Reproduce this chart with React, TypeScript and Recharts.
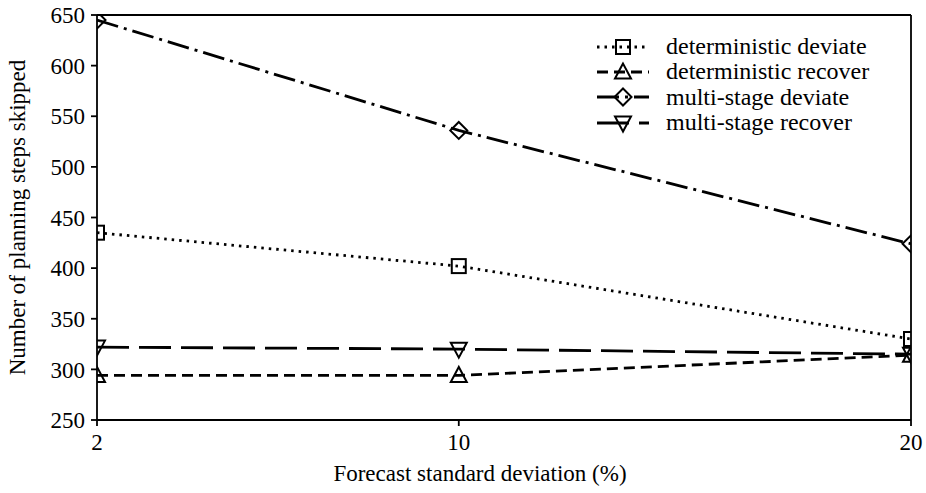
import React from "react"
import {
  LineChart,
  Line,
  XAxis,
  YAxis,
  ReferenceLine,
  Legend,
} from "recharts"

const forecastStd = [2, 10, 20]
const detDeviate = [435, 402, 330]
const detRecover = [294, 294, 314]
const msDeviate = [645, 536, 424]
const msRecover = [322, 320, 315]
const yTicks = [250, 300, 350, 400, 450, 500, 550, 600, 650]

const FONT = "'Liberation Serif', 'DejaVu Serif', serif"
const FS = 23

type Shape = "square" | "triangle" | "diamond" | "triangleDown"

interface SeriesDef {
  key: string
  name: string
  dash: string
  shape: Shape
}

const series: SeriesDef[] = [
  { key: "detDeviate", name: "deterministic deviate", dash: "2.5 5", shape: "square" },
  { key: "detRecover", name: "deterministic recover", dash: "11 6", shape: "triangle" },
  { key: "msDeviate", name: "multi-stage deviate", dash: "22 6 3 6", shape: "diamond" },
  { key: "msRecover", name: "multi-stage recover", dash: "32 10", shape: "triangleDown" },
]

const data = forecastStd.map((x, i) => ({
  x,
  detDeviate: detDeviate[i],
  detRecover: detRecover[i],
  msDeviate: msDeviate[i],
  msRecover: msRecover[i],
}))

function Marker({ shape, cx, cy }: { shape: Shape; cx: number; cy: number }) {
  const common = { fill: "none", stroke: "#000", strokeWidth: 2 }
  if (shape === "square") {
    return <rect x={cx - 7} y={cy - 7} width={14} height={14} {...common} />
  }
  if (shape === "triangle") {
    return <polygon points={`${cx},${cy - 8.5} ${cx - 8},${cy + 6.5} ${cx + 8},${cy + 6.5}`} {...common} />
  }
  if (shape === "triangleDown") {
    return <polygon points={`${cx},${cy + 8.5} ${cx - 8},${cy - 6.5} ${cx + 8},${cy - 6.5}`} {...common} />
  }
  return <polygon points={`${cx},${cy - 8.5} ${cx + 8.5},${cy} ${cx},${cy + 8.5} ${cx - 8.5},${cy}`} {...common} />
}

function LegendBox() {
  return (
    <div style={{ fontFamily: FONT, fontSize: 24, lineHeight: "25.3px", color: "#000" }}>
      {series.map((s) => (
        <div key={s.key} style={{ display: "flex", alignItems: "center", height: 25.3 }}>
          <svg width={56} height={22} style={{ marginRight: 15 }}>
            <line x1={2} y1={11} x2={54} y2={11} stroke="#000" strokeWidth={3} strokeDasharray={s.dash} />
            <Marker shape={s.shape} cx={28} cy={11} />
          </svg>
          <span>{s.name}</span>
        </div>
      ))}
    </div>
  )
}

export default function App() {
  return (
    <div style={{ position: "absolute", left: 0, top: 0, width: 926, height: 493, background: "#fff" }}>
      <LineChart
        width={926}
        height={493}
        data={data}
        margin={{ top: 15, right: 15, left: 0, bottom: 0 }}
      >
        <XAxis
          dataKey="x"
          type="number"
          domain={[2, 20]}
          ticks={forecastStd}
          allowDataOverflow
          height={73}
          stroke="#000"
          strokeWidth={1.8}
          tickSize={6}
          tickMargin={8}
          tick={{ fill: "#000", fontSize: FS, fontFamily: FONT }}
          label={{
            value: "Forecast standard deviation (%)",
            position: "insideBottom",
            offset: 12,
            dx: -24,
            fill: "#000",
            fontSize: FS,
            fontFamily: FONT,
          }}
        />
        <YAxis
          type="number"
          domain={[250, 650]}
          ticks={yTicks}
          allowDataOverflow
          width={97}
          stroke="#000"
          strokeWidth={1.8}
          tickSize={6}
          tickMargin={6}
          tick={{ fill: "#000", fontSize: FS, fontFamily: FONT }}
          label={{
            value: "Number of planning steps skipped",
            angle: -90,
            position: "insideLeft",
            offset: 0,
            dx: 17,
            fill: "#000",
            fontSize: FS,
            fontFamily: FONT,
            style: { textAnchor: "middle" },
          }}
        />
        <ReferenceLine y={650} stroke="#000" strokeWidth={1.8} />
        <ReferenceLine x={20} stroke="#000" strokeWidth={1.8} />
        {series.map((s) => (
          <Line
            key={s.key}
            dataKey={s.key}
            name={s.name}
            type="linear"
            stroke="#000"
            strokeWidth={2.8}
            strokeDasharray={s.dash}
            isAnimationActive={false}
            dot={(p: any) => <Marker key={`${s.key}-${p.index}`} shape={s.shape} cx={p.cx} cy={p.cy} />}
            activeDot={false}
          />
        ))}
        <Legend
          layout="horizontal"
          verticalAlign="middle"
          align="center"
          wrapperStyle={{ top: 34, left: 595, width: 320 }}
          content={() => <LegendBox />}
        />
      </LineChart>
    </div>
  )
}
